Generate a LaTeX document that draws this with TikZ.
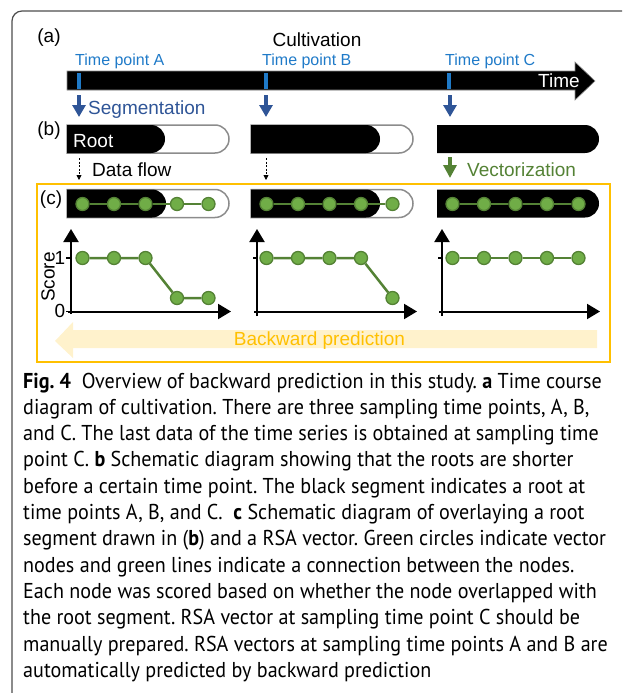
\documentclass[tikz,border=0pt]{standalone}
\usepackage{fontspec}
\setmainfont{Liberation Sans}
\newfontfamily\capfont[FakeStretch=0.935]{PT Sans}
\usetikzlibrary{arrows.meta}
\definecolor{tpblue}{HTML}{1F7AC8}
\definecolor{segblue}{HTML}{2F5597}
\definecolor{vgreen}{HTML}{548235}
\definecolor{dotfill}{HTML}{70AD47}
\definecolor{ofr}{HTML}{FFC000}
\definecolor{bwfill}{HTML}{FFF2CC}
\definecolor{outl}{HTML}{8C8C8C}
\definecolor{framegray}{HTML}{4D4D4D}
\newcommand\rootbar[4]{\path[#4] (#1,#3) -- (#2-14,#3) .. controls (#2-6.27,#3) and (#2,#3+6.27) .. (#2,#3+14) .. controls (#2,#3+21.73) and (#2-6.27,#3+28) .. (#2-14,#3+28) -- (#1,#3+28) -- cycle;}
\frenchspacing
\begin{document}
\begin{tikzpicture}[x=1pt,y=-1pt,
  lbl/.style={font=\fontsize{19}{22}\selectfont, inner sep=0pt},
  tplbl/.style={font=\fontsize{16}{19}\selectfont, inner sep=0pt, text=tpblue, anchor=west},
  caption/.style={font=\capfont\fontsize{21.5}{26}\selectfont, inner sep=0pt, anchor=base west},
  dot/.style={circle, fill=dotfill, draw=vgreen, line width=1.3pt, minimum size=13pt, inner sep=0pt},
  vline/.style={vgreen, line width=2.5pt},
  segarrow/.style={segblue, line width=3.3pt, -{Triangle[width=13pt,length=12pt]}, shorten <=5pt, shorten >=8pt},
  flowarrow/.style={black, line width=0.8pt, dash pattern=on 2pt off 1.5pt, -{Triangle[width=5pt,length=5pt]}, shorten <=5pt, shorten >=9pt},
  vecarrow/.style={vgreen, line width=3.3pt, -{Triangle[width=13pt,length=13pt]}, shorten <=4pt, shorten >=11pt},
  axis/.style={black, line width=2pt, -{Triangle[width=15pt,length=13pt]}},
  tick/.style={black, line width=1.5pt},
]
\useasboundingbox (0,0) rectangle (622,693);
\clip (0,0) rectangle (622,693);
% outer frame
\draw[framegray, line width=1.2pt, rounded corners=10pt] (12,11) rectangle (660,720);

% ---------- (a) timeline ----------
\node[lbl] (la) at (49,38) {(a)};
\node[lbl] (cult) at (317,40) {Cultivation};
\path[fill=black, draw=outl, line width=0.6pt] (67,71) -- (575,71) -- (575,62) -- (595,81) -- (575,100) -- (575,90) -- (67,90) -- cycle;
\node[lbl, text=white] (timelbl) at (559,81) {Time};
\fill[tpblue] (77,73) rectangle (81,89);
\fill[tpblue] (264,73) rectangle (268,89);
\fill[tpblue] (447,73) rectangle (451,89);
\node[tplbl] (tpA) at (75,61) {Time point A};
\node[tplbl] (tpB) at (262,61) {Time point B};
\node[tplbl] (tpC) at (445,61) {Time point C};
\coordinate (tA) at (79,90);
\coordinate (tB) at (266,90);
\coordinate (tC) at (450,90);

% ---------- (b) roots ----------
\node[lbl] (lb) at (49,131) {(b)};
\rootbar{67}{229}{125}{draw=outl, line width=1.5pt}
\rootbar{67}{165}{125}{fill=black}
\rootbar{251}{413}{125}{draw=outl, line width=1.5pt}
\rootbar{251}{380}{125}{fill=black}
\rootbar{437}{599}{125}{fill=black}
\node[lbl, text=white, anchor=west] (rootlbl) at (73,141) {Root};
\coordinate (rA) at (79,125);
\coordinate (rB) at (266,125);
\coordinate (rC) at (450,125);
\coordinate (rAb) at (79,153);
\coordinate (rBb) at (266,153);
\coordinate (rCb) at (450,153);

\draw[segarrow] (tA) -- (rA);
\draw[segarrow] (tB) -- (rB);
\draw[segarrow] (tC) -- (rC);
\node[lbl, text=segblue, anchor=west] (seg) at (88,110) {Segmentation};

% ---------- (c) ----------
\draw[ofr, line width=2.5pt] (37,184) rectangle (610,362);
\node[lbl] (lc) at (51,200) {(c)};
\coordinate (cA) at (79,189);
\coordinate (cB) at (266,189);
\coordinate (cC) at (450,189);
\draw[flowarrow] (rAb) -- (cA);
\draw[flowarrow] (rBb) -- (cB);
\draw[vecarrow] (rCb) -- (cC);
\node[lbl, anchor=west] (dflow) at (92,170) {Data flow};
\node[lbl, text=vgreen, anchor=west] (vect) at (467,170) {Vectorization};

\rootbar{67}{229}{189.5}{draw=outl, line width=1.5pt}
\rootbar{67}{166}{189.5}{fill=black}
\rootbar{251}{413}{189.5}{draw=outl, line width=1.5pt}
\rootbar{251}{380}{189.5}{fill=black}
\rootbar{437}{599}{189.5}{fill=black}

% vectors
\foreach \s/\n in {67/A,251/B,437/C}{
  \foreach \k in {1,...,5}{
    \node[dot] (v\n\k) at ({\s+15.5+31.5*(\k-1)},204) {};
  }
}
\foreach \n in {A,B,C}{
  \draw[vline] (v\n1) -- (v\n2) -- (v\n3) -- (v\n4) -- (v\n5);
}

% axes
\draw[axis] (71,314) -- (71,229);
\draw[axis] (68,311.5) -- (231,311.5);
\draw[tick] (66,258) -- (71,258);
\draw[tick] (66,311.5) -- (71,311.5);
\node[lbl] (one) at (60,258) {1};
\node[lbl] (zero) at (60,311) {0};
\node[lbl, rotate=90] (score) at (48,277) {Score};

\draw[axis] (257,316) -- (257,229);
\draw[axis] (254,311.5) -- (417,311.5);
\draw[tick] (253,258) -- (257,258);

\draw[axis] (442,316) -- (442,229);
\draw[axis] (439,311.5) -- (600,311.5);
\draw[tick] (438,258) -- (442,258);

% score points
\node[dot] (pA1) at (82.5,258) {};
\node[dot] (pA2) at (114,258) {};
\node[dot] (pA3) at (145.5,258) {};
\node[dot] (pA4) at (177,298) {};
\node[dot] (pA5) at (208.5,298) {};
\node[dot] (pB1) at (266.5,258) {};
\node[dot] (pB2) at (298,258) {};
\node[dot] (pB3) at (329.5,258) {};
\node[dot] (pB4) at (361,258) {};
\node[dot] (pB5) at (392.5,298) {};
\node[dot] (pC1) at (452.5,258) {};
\node[dot] (pC2) at (484,258) {};
\node[dot] (pC3) at (515.5,258) {};
\node[dot] (pC4) at (547,258) {};
\node[dot] (pC5) at (578.5,258) {};
\foreach \n in {A,B,C}{
  \draw[vline] (p\n1) -- (p\n2) -- (p\n3) -- (p\n4) -- (p\n5);
}

% backward prediction arrow
\path[fill=bwfill] (55,341) -- (73,322) -- (73,330) -- (597,330) -- (597,348) -- (73,348) -- (73,358) -- cycle;
\node[lbl, text=ofr] (bw) at (319.5,341) {Backward prediction};

% ---------- caption ----------
\node[caption] (c1) at (23,388) {\textbf{Fig. 4}\ \ Overview of backward prediction in this study. \textbf{a} Time course};
\node[caption] (c2) at (23,414.3) {diagram of cultivation. There are three sampling time points, A, B,};
\node[caption] (c3) at (23,440.6) {and C. The last data of the time series is obtained at sampling time};
\node[caption] (c4) at (23,466.9) {point C. \textbf{b} Schematic diagram showing that the roots are shorter};
\node[caption] (c5) at (23,493.2) {before a certain time point. The black segment indicates a root at};
\node[caption] (c6) at (23,519.5) {time points A, B, and C.\ \ \textbf{c} Schematic diagram of overlaying a root};
\node[caption] (c7) at (23,545.8) {segment drawn in (\textbf{b}) and a RSA vector. Green circles indicate vector};
\node[caption] (c8) at (23,572.1) {nodes and green lines indicate a connection between the nodes.};
\node[caption] (c9) at (23,598.4) {Each node was scored based on whether the node overlapped with};
\node[caption] (c10) at (23,624.7) {the root segment. RSA vector at sampling time point C should be};
\node[caption] (c11) at (23,651) {manually prepared. RSA vectors at sampling time points A and B are};
\node[caption] (c12) at (23,677.3) {automatically predicted by backward prediction};
\end{tikzpicture}
\end{document}
